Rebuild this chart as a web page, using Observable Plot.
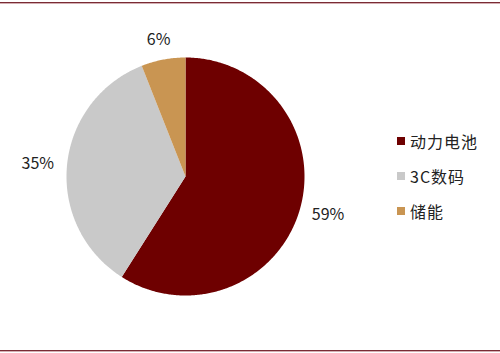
<!DOCTYPE html>
<html>
<head>
<meta charset="utf-8">
<script src="https://cdn.jsdelivr.net/npm/d3@7"></script>
<script src="https://cdn.jsdelivr.net/npm/@observablehq/plot@0.6"></script>
<style>
  html, body { margin: 0; padding: 0; background: #fff; }
  #chart { position: relative; width: 500px; height: 353px; overflow: hidden;
           font-family: "Noto Sans CJK SC", "Open Sans", sans-serif; }
  .rule { position: absolute; left: 0; width: 500px; height: 1px; }
  #legend { position: absolute; left: 397px; top: 123.5px; font-size: 16px; letter-spacing: 1px; color: #222; }
  #legend .item { display: flex; align-items: center; height: 35px; }
  #legend .sw { width: 8px; height: 8px; margin-right: 5px; }
</style>
</head>
<body>
<div id="chart"></div>
<script>
// Share of shipments by application
const categories = ["动力电池", "3C数码", "储能"];
const shares = [59, 35, 6];
const labels = ["59%", "35%", "6%"];
const colors = ["#6e0000", "#c9c9c9", "#c99552"];

const W = 500, H = 353;
const cx = 185, cy = 176, R = 119;   // pie centre and radius in pixels

// Slice geometry from d3.pie (clockwise from 12 o'clock, data order)
const pie = d3.pie().sort(null).value(d => d.value)(
  categories.map((c, i) => ({name: c, value: shares[i], label: labels[i]}))
);

// Unit-circle polygons for each slice
const pts = [];
for (const s of pie) {
  const n = Math.max(2, Math.ceil((s.endAngle - s.startAngle) / 0.01));
  pts.push({name: s.data.name, x: 0, y: 0});
  for (let k = 0; k <= n; k++) {
    const a = s.startAngle + (s.endAngle - s.startAngle) * k / n;
    pts.push({name: s.data.name, x: Math.sin(a), y: Math.cos(a)});
  }
  pts.push({name: s.data.name, x: 0, y: 0});
}

// Outside-end labels: anchored just past the rim, shifted by half the text box
const gap = 15 / R;
const lab = pie.map(s => {
  const a = (s.startAngle + s.endAngle) / 2;
  const ux = Math.sin(a), uy = Math.cos(a);
  const w = s.data.label.length * 9.6 / R, h = 10 / R;
  return {
    text: s.data.label,
    x: ux * (1 + gap) + ux * w / 2,
    y: uy * (1 + gap) + uy * h / 2
  };
});

const plot = Plot.plot({
  width: W,
  height: H,
  margin: 0,
  x: {domain: [-cx / R, (W - cx) / R], range: [0, W], axis: null},
  y: {domain: [-(H - cy) / R, cy / R], range: [H, 0], axis: null},
  color: {domain: categories, range: colors},
  style: {background: "transparent", fontFamily: "'Noto Sans CJK SC', 'Open Sans', sans-serif"},
  marks: [
    Plot.line(pts, {x: "x", y: "y", z: "name", fill: "name", stroke: "none", curve: "linear"}),
    Plot.text(lab, {x: "x", y: "y", text: "text", fontSize: 16, fill: "#222", textAnchor: "middle"})
  ]
});

const chart = document.getElementById("chart");
chart.appendChild(plot);

// Frame rules top and bottom
[[2, "#7a2b35"], [3, "#d3aeb2"], [350, "#7a2b35"], [351, "#d3aeb2"]].forEach(([t, c]) => {
  const d = document.createElement("div");
  d.className = "rule";
  d.style.top = t + "px";
  d.style.background = c;
  chart.appendChild(d);
});

// Legend
const legend = document.createElement("div");
legend.id = "legend";
categories.forEach((c, i) => {
  const item = document.createElement("div");
  item.className = "item";
  const sw = document.createElement("span");
  sw.className = "sw";
  sw.style.background = colors[i];
  const tx = document.createElement("span");
  tx.textContent = c;
  item.appendChild(sw);
  item.appendChild(tx);
  legend.appendChild(item);
});
chart.appendChild(legend);
</script>
</body>
</html>
